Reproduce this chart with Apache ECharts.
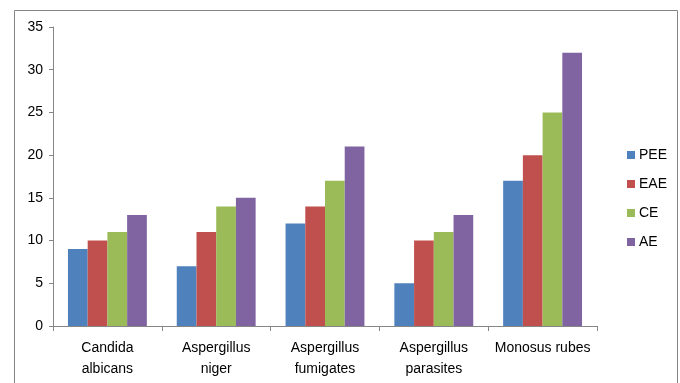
<!DOCTYPE html>
<html>
<head>
<meta charset="utf-8">
<script src="https://cdn.jsdelivr.net/npm/echarts@6/dist/echarts.min.js"></script>
<style>
html,body{margin:0;padding:0;background:#fff;}
#c{width:680px;height:383px;}
</style>
</head>
<body>
<div id="c"></div>
<script>
var categories = ['Candida\nalbicans', 'Aspergillus\nniger', 'Aspergillus\nfumigates', 'Aspergillus\nparasites', 'Monosus rubes'];
var seriesNames = ['PEE', 'EAE', 'CE', 'AE'];
var PEE = [9, 7, 12, 5, 17];
var EAE = [10, 11, 14, 10, 20];
var CE = [11, 14, 17, 11, 25];
var AE = [13, 15, 21, 13, 32];
var yTicks = [0, 5, 10, 15, 20, 25, 30, 35];
var colors = ['#4F81BD', '#C0504D', '#9BBB59', '#8064A2'];

var data = [PEE, EAE, CE, AE];
var font = 'Liberation Sans';
var chart = echarts.init(document.getElementById('c'));
chart.setOption({
  animation: false,
  color: colors,
  graphic: [{
    type: 'rect', left: 12, top: 8,
    shape: {width: 663, height: 420},
    style: {fill: 'none', stroke: '#858585', lineWidth: 1}
  }],
  grid: {left: 53, right: 83, top: 27, bottom: 57, containLabel: false},
  legend: {
    orient: 'vertical', left: 622, top: 143,
    itemWidth: 8, itemHeight: 8, itemGap: 15,
    icon: 'rect',
    textStyle: {fontFamily: font, fontSize: 14, color: '#000', padding: [0,0,0,-1]},
    data: seriesNames
  },
  xAxis: {
    type: 'category', data: categories,
    axisLine: {lineStyle: {color: '#868686'}},
    axisTick: {show: true, length: 5, lineStyle: {color: '#868686'}},
    axisLabel: {fontFamily: font, fontSize: 14, color: '#000', margin: 12, lineHeight: 21, interval: 0}
  },
  yAxis: {
    type: 'value', min: 0, max: 35, interval: 5,
    splitLine: {show: false},
    axisLine: {show: true, lineStyle: {color: '#868686'}},
    axisTick: {show: true, length: 4, lineStyle: {color: '#868686'}},
    axisLabel: {fontFamily: font, fontSize: 14, color: '#000', margin: 10,
      formatter: function(v){ return yTicks.indexOf(v) >= 0 ? String(v) : ''; }}
  },
  series: seriesNames.map(function(n, i){
    return {name: n, type: 'bar', data: data[i], barGap: '0%', barCategoryGap: '27.5%'};
  })
});
</script>
</body>
</html>
